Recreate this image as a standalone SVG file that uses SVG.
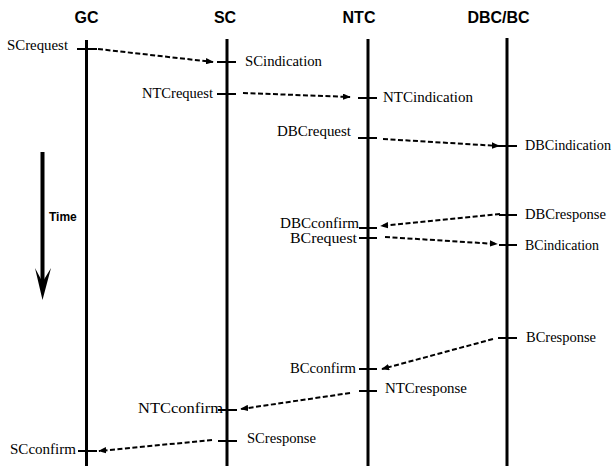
<svg xmlns="http://www.w3.org/2000/svg" width="615" height="466" viewBox="0 0 615 466">
<style>
.hdr{font-family:'Liberation Sans',Arial,sans-serif;font-weight:bold;font-size:16px;text-anchor:middle;fill:#000}
.lbl{font-family:'Liberation Serif','DejaVu Serif','Times New Roman',serif;font-size:14.5px;fill:#000}
.end{text-anchor:end}
.life{stroke:#000;stroke-width:3;fill:none}
.tick{stroke:#000;stroke-width:2;fill:none}
.msg{stroke:#000;stroke-width:2;stroke-dasharray:5 2.5;fill:none;marker-end:url(#ah)}
</style>
<defs>
<marker id="ah" viewBox="0 0 10 8" refX="9" refY="4" markerWidth="4" markerHeight="3.2" orient="auto" markerUnits="strokeWidth">
<path d="M0,0 L10,4 L0,8 Z" fill="#000"/>
</marker>
</defs>
<rect width="615" height="466" fill="#fff"/>
<g id="GC">
<text class="hdr" x="86.5" y="23">GC</text>
<line class="life" x1="86.5" y1="40" x2="86.5" y2="466"/>
<line class="tick" x1="77" y1="49" x2="97" y2="49"/>
<line class="tick" x1="78" y1="451" x2="97" y2="451"/>
<text class="lbl end" x="68" y="50" textLength="61" lengthAdjust="spacingAndGlyphs">SCrequest</text>
<text class="lbl end" x="76" y="454" textLength="66" lengthAdjust="spacingAndGlyphs">SCconfirm</text>
</g>
<g id="SC">
<text class="hdr" x="225" y="23">SC</text>
<line class="life" x1="227" y1="39" x2="227" y2="466"/>
<line class="tick" x1="217" y1="62" x2="236" y2="62"/>
<line class="tick" x1="217" y1="94" x2="236" y2="94"/>
<line class="tick" x1="218" y1="410" x2="237" y2="410"/>
<line class="tick" x1="218" y1="441" x2="237" y2="441"/>
<text class="lbl" x="245" y="66" textLength="77" lengthAdjust="spacingAndGlyphs">SCindication</text>
<text class="lbl end" x="213" y="98" textLength="71" lengthAdjust="spacingAndGlyphs">NTCrequest</text>
<text class="lbl end" x="223" y="413" textLength="85" lengthAdjust="spacingAndGlyphs">NTCconfirm</text>
<text class="lbl" x="247" y="443" textLength="69" lengthAdjust="spacingAndGlyphs">SCresponse</text>
</g>
<g id="NTC">
<text class="hdr" x="359" y="23">NTC</text>
<line class="life" x1="368" y1="39" x2="368" y2="466"/>
<line class="tick" x1="358" y1="98" x2="377" y2="98"/>
<line class="tick" x1="358" y1="138" x2="377" y2="138"/>
<line class="tick" x1="359" y1="228" x2="377" y2="228"/>
<line class="tick" x1="359" y1="238" x2="377" y2="238"/>
<line class="tick" x1="359" y1="369" x2="377" y2="369"/>
<line class="tick" x1="359" y1="391" x2="377" y2="391"/>
<text class="lbl" x="383" y="102" textLength="90" lengthAdjust="spacingAndGlyphs">NTCindication</text>
<text class="lbl end" x="351" y="136" textLength="74" lengthAdjust="spacingAndGlyphs">DBCrequest</text>
<text class="lbl end" x="359" y="228" textLength="79" lengthAdjust="spacingAndGlyphs">DBCconfirm</text>
<text class="lbl end" x="357" y="243" textLength="67" lengthAdjust="spacingAndGlyphs">BCrequest</text>
<text class="lbl end" x="356" y="373" textLength="66" lengthAdjust="spacingAndGlyphs">BCconfirm</text>
<text class="lbl" x="385" y="393" textLength="82" lengthAdjust="spacingAndGlyphs">NTCresponse</text>
</g>
<g id="DBCBC">
<text class="hdr" x="498.5" y="23">DBC/BC</text>
<line class="life" x1="507" y1="38" x2="507" y2="466"/>
<line class="tick" x1="499" y1="146" x2="517" y2="146"/>
<line class="tick" x1="499" y1="215" x2="517" y2="215"/>
<line class="tick" x1="499" y1="245" x2="517" y2="245"/>
<line class="tick" x1="498" y1="338" x2="517" y2="338"/>
<text class="lbl" x="525" y="150" textLength="86" lengthAdjust="spacingAndGlyphs">DBCindication</text>
<text class="lbl" x="525" y="219" textLength="81" lengthAdjust="spacingAndGlyphs">DBCresponse</text>
<text class="lbl" x="525" y="250" textLength="74" lengthAdjust="spacingAndGlyphs">BCindication</text>
<text class="lbl" x="526" y="342" textLength="70" lengthAdjust="spacingAndGlyphs">BCresponse</text>
</g>
<g id="time">
<rect x="40.5" y="152" width="4" height="136" fill="#000"/>
<path d="M35,268 L42.5,300 L51,268 L42.5,282 Z" fill="#000"/>
<text x="49" y="221" font-family="Liberation Sans, Arial, sans-serif" font-size="12" font-weight="bold">Time</text>
</g>
<g id="connectors">
<line class="msg" x1="98" y1="49" x2="213" y2="62"/>
<line class="msg" x1="243" y1="93" x2="350" y2="97"/>
<line class="msg" x1="383" y1="139" x2="499" y2="146"/>
<line class="msg" x1="500" y1="214" x2="381" y2="226"/>
<line class="msg" x1="385" y1="237" x2="497" y2="244"/>
<line class="msg" x1="493" y1="339" x2="382" y2="369"/>
<line class="msg" x1="350" y1="393" x2="241" y2="409"/>
<line class="msg" x1="212" y1="440" x2="99" y2="451"/>
</g>
</svg>
